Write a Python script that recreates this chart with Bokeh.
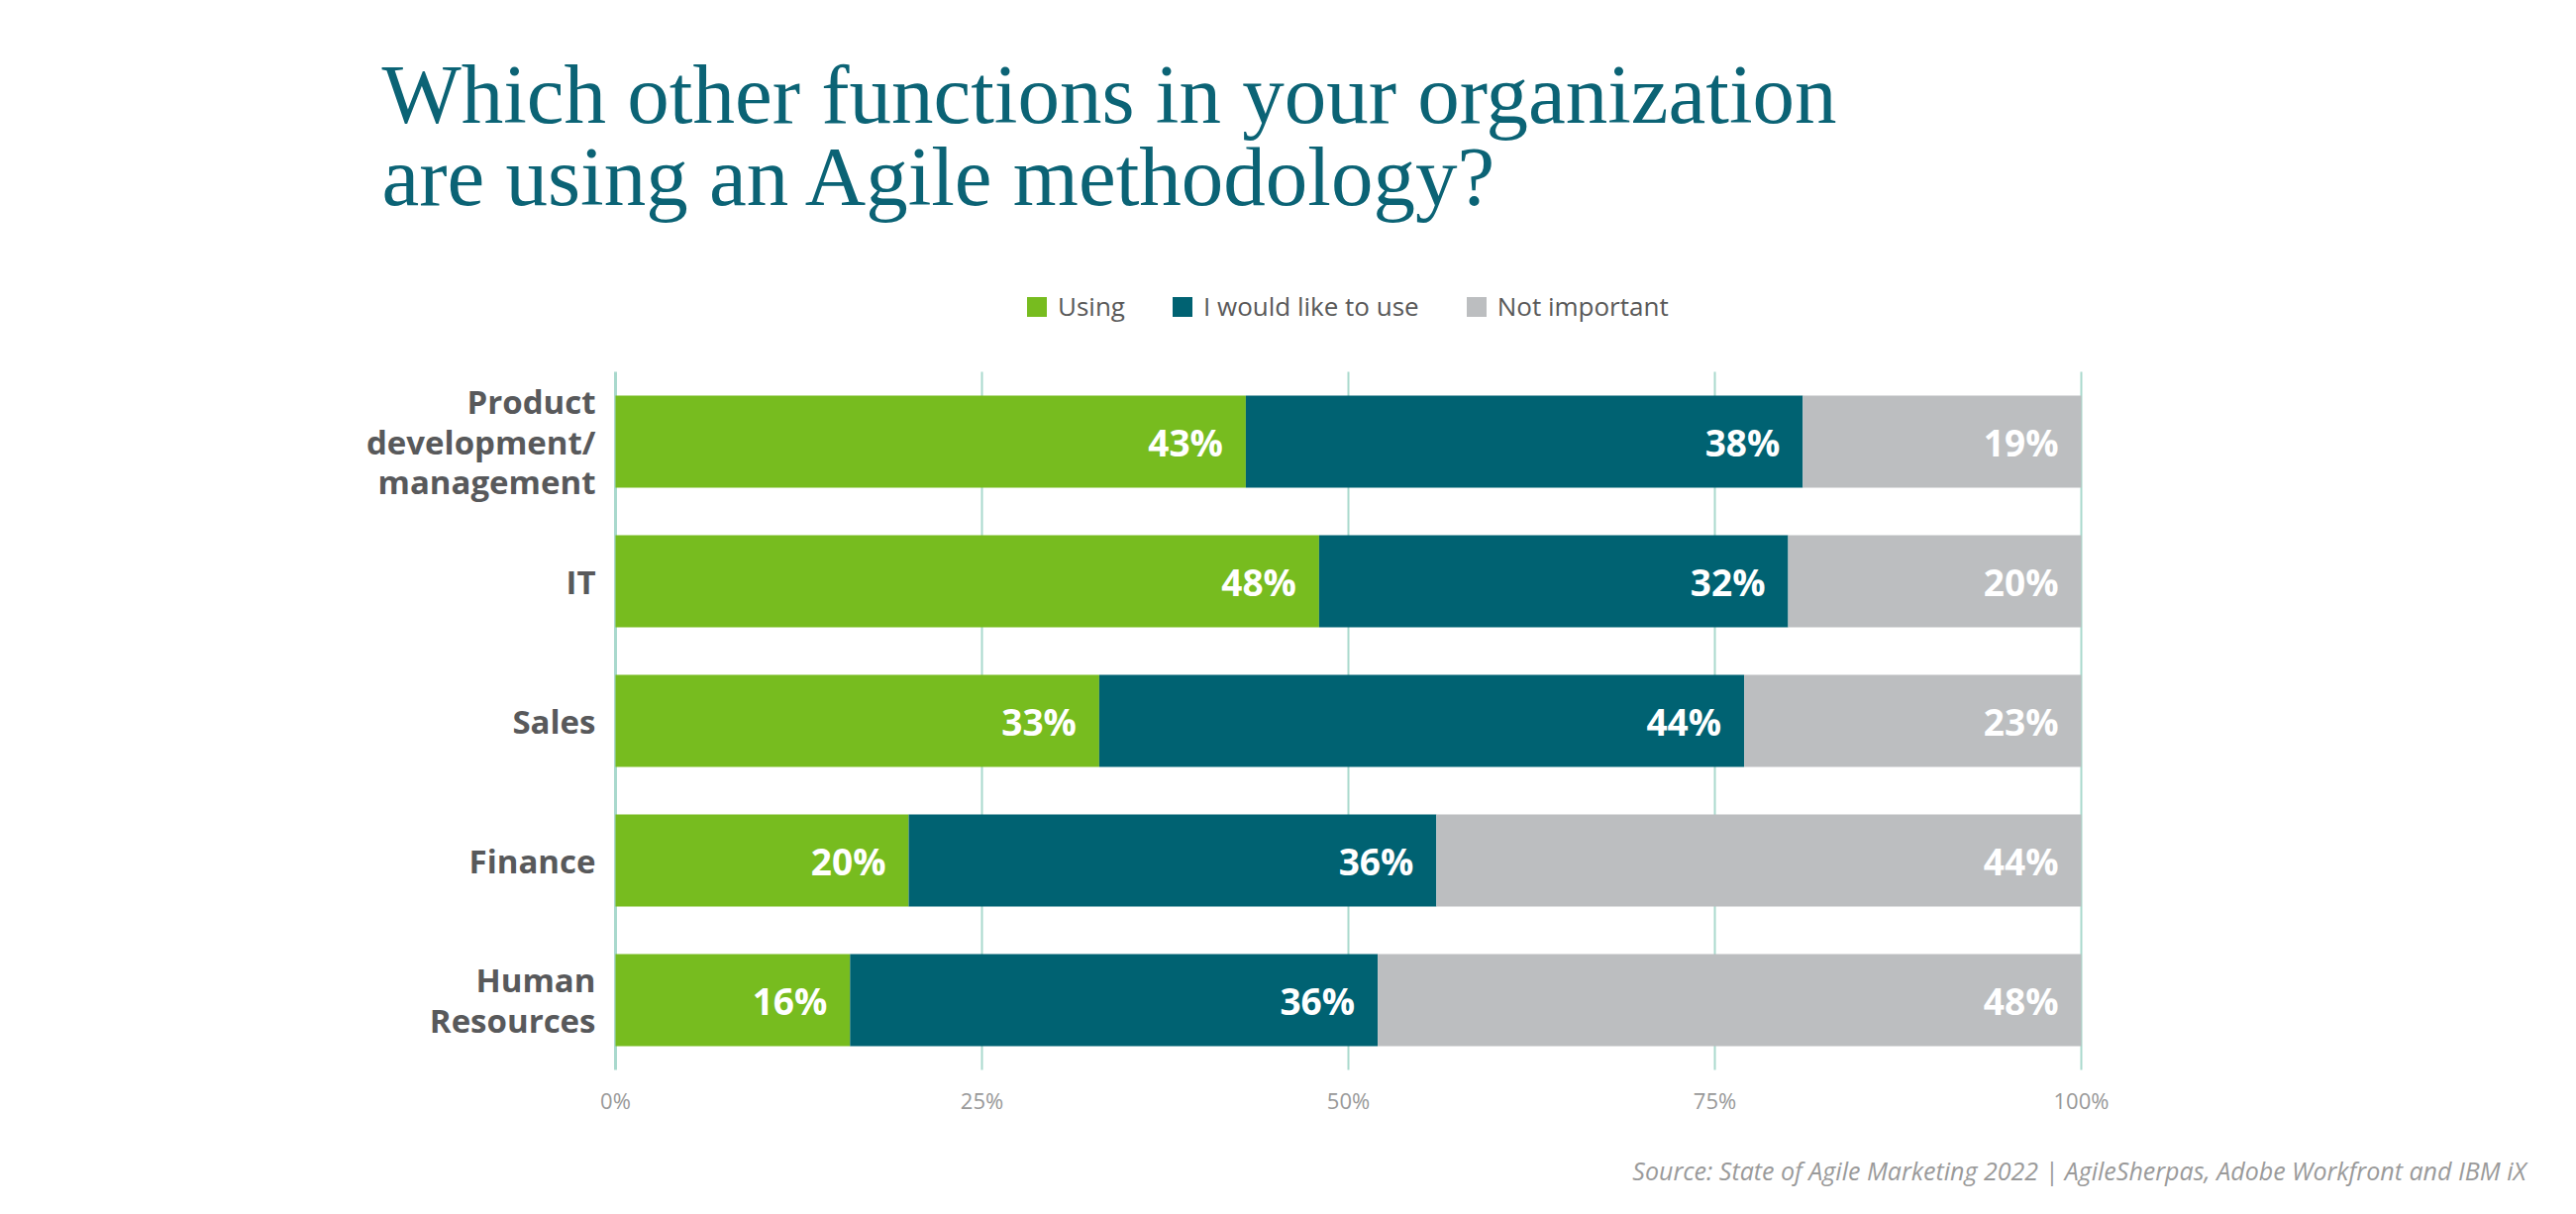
from bokeh.plotting import figure
from bokeh.models import ColumnDataSource, Range1d, Label, Legend, LegendItem
from bokeh.embed import file_html
from bokeh.resources import INLINE
from bokeh.core.properties import value

# ---- data ----
categories = ["Product development/management", "IT", "Sales", "Finance", "Human Resources"]
category_labels = ["Product\ndevelopment/\nmanagement", "IT", "Sales", "Finance", "Human\nResources"]
using = [43, 48, 33, 20, 16]
would_like = [38, 32, 44, 36, 36]
not_important = [19, 20, 23, 44, 48]
series_keys = ["using", "would_like", "not_important"]
series_names = ["Using", "I would like to use", "Not important"]
colors = ["#77bc1f", "#006272", "#bcbec0"]
x_ticks = [0, 25, 50, 75, 100]
x_tick_labels = ["0%", "25%", "50%", "75%", "100%"]
title_lines = ["Which other functions in your organization", "are using an Agile methodology?"]
source_note = "Source: State of Agile Marketing 2022 | AgileSherpas, Adobe Workfront and IBM iX"

# ---- layout (page pixels) ----
W, H = 2585, 1210
X0, X100 = 621, 2101          # pixel positions of 0% and 100%
FT, FB = 375, 1080            # top / bottom of the bar area
n = len(categories)
band = (FB - FT) / n
ppu = (X100 - X0) / 100.0


def px_to_x(px):
    return (px - X0) / ppu


def py_to_y(py):
    return -0.5 + (FB - py) / band


p = figure(width=W, height=H, title=None,
           x_range=Range1d(px_to_x(0), px_to_x(W)),
           y_range=Range1d(py_to_y(H), py_to_y(0)),
           output_backend="svg", toolbar_location=None,
           min_border_left=0, min_border_right=0,
           min_border_top=0, min_border_bottom=0)
p.outline_line_color = None
p.background_fill_color = "white"
p.border_fill_color = "white"
p.xaxis.visible = False
p.yaxis.visible = False
p.grid.visible = False

ypos = [n - 1 - i for i in range(n)]

# vertical grid lines spanning the bar area
grid_src = ColumnDataSource(dict(x=x_ticks, y0=[-0.5] * len(x_ticks), y1=[n - 0.5] * len(x_ticks),
                                 w=[3 if t == 0 else 2 for t in x_ticks]))
p.segment(x0="x", y0="y0", x1="x", y1="y1", source=grid_src,
          line_color="#a9d9cd", line_width="w")

# stacked bars
src = ColumnDataSource(dict(y=ypos, using=using, would_like=would_like,
                            not_important=not_important))
bars = p.hbar_stack(series_keys, y="y", height=0.66, color=colors, source=src,
                    line_color=None)

# value labels at segment ends
lx, ly, lt = [], [], []
series_vals = [using, would_like, not_important]
for i in range(n):
    cum = 0
    for vals in series_vals:
        cum += vals[i]
        lx.append(cum)
        ly.append(ypos[i])
        lt.append(f"{vals[i]}%")
lab_src = ColumnDataSource(dict(x=lx, y=ly, t=lt))
p.text(x="x", y="y", text="t", source=lab_src, x_offset=-23,
       text_align="right", text_baseline="middle", text_color="white",
       text_font=value("Open Sans"), text_font_style="bold", text_font_size="37px")

# category labels
cat_src = ColumnDataSource(dict(x=[0] * n, y=ypos, t=category_labels))
p.text(x="x", y="y", text="t", source=cat_src, x_offset=-20,
       text_align="right", text_baseline="middle", text_color="#58595b",
       text_font=value("Open Sans"), text_font_style="bold", text_font_size="33px",
       text_line_height=0.9)

# x tick labels
tick_src = ColumnDataSource(dict(x=x_ticks, y=[-0.5] * len(x_ticks), t=x_tick_labels))
p.text(x="x", y="y", text="t", source=tick_src, y_offset=30,
       text_align="center", text_baseline="middle", text_color="#999999",
       text_font=value("Open Sans"), text_font_size="22px")

# legend
legend = Legend(items=[LegendItem(label=nm, renderers=[r]) for nm, r in zip(series_names, bars)],
                orientation="horizontal", location=(1034, H - 327),
                glyph_width=25, glyph_height=25, label_height=25, label_standoff=9,
                spacing=45, padding=0, margin=0, border_line_color=None,
                background_fill_alpha=0,
                label_text_font="Open Sans", label_text_font_size="26px",
                label_text_color="#595959")
p.add_layout(legend)

# title
for line, base in zip(title_lines, [94, 177]):
    p.add_layout(Label(x=px_to_x(385), y=py_to_y(base), text=line,
                       text_font="Liberation Serif", text_font_size="85px",
                       text_color="#0b6375", text_baseline="alphabetic", text_align="left"))

# source note
p.add_layout(Label(x=px_to_x(2550), y=py_to_y(1181), text=source_note,
                   text_font="Open Sans", text_font_style="italic",
                   text_font_size="25px", text_color="#9a9a9a",
                   text_baseline="middle", text_align="right"))

open("out.html", "w").write(file_html(p, INLINE))
